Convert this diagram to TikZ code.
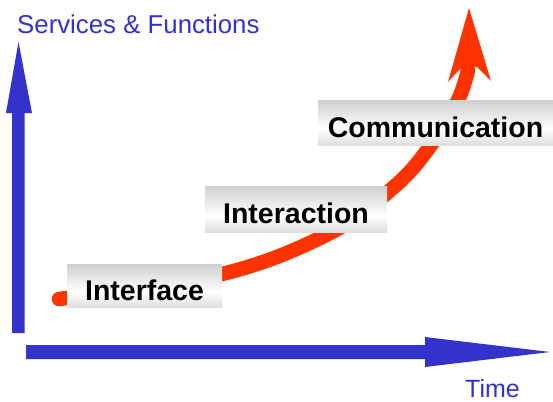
\documentclass[tikz,border=0pt]{standalone}
\usepackage{fontspec}
\setmainfont{Liberation Sans}
\definecolor{axisblue}{HTML}{3333CC}
\definecolor{curvered}{HTML}{FF3300}
\pgfdeclareverticalshading{barshade}{100bp}{color(0bp)=(gray!62); color(43bp)=(white); color(100bp)=(gray!68)}
\begin{document}
\begin{tikzpicture}[x=1pt,y=-1pt,
  bar/.style={shading=barshade, inner sep=0pt, font=\fontsize{28.5}{30}\selectfont\bfseries,
    text height=29pt, text depth=0pt},
  axislabel/.style={text=axisblue, font=\fontsize{25.8}{27}\selectfont, inner sep=0pt, anchor=base west},
  axisfill/.style={fill=axisblue, draw=none}]
\useasboundingbox (0,0) rectangle (553,401);
% red growth curve
\draw[curvered, line width=14.5pt, line cap=round]
  plot[smooth, tension=0.6] coordinates {(59,299) (222,274) (330,233) (395,186) (431,145) (458,100) (468,70)};
\fill[curvered] (469,8) -- (491,81) -- (477,67) -- (468,66) -- (459,70) -- (448,82) -- cycle;
% boxes
\node[bar, minimum width=155pt, minimum height=43pt] (iface) at (144.5,285.5) {Interface};
\node[bar, minimum width=182pt, minimum height=46pt] (inter) at (296,209) {Interaction};
\node[bar, minimum width=235pt, minimum height=45pt] (comm) at (435.5,122.5) {Communication};
% axes
\fill[axisfill] (12,333) -- (12,113) -- (6,113) -- (18.5,42) -- (32,113) -- (24.5,113) -- (24.5,333) -- cycle;
\fill[axisfill] (26,345) -- (425,345) -- (425,337) -- (550,352) -- (425,367) -- (425,359) -- (26,359) -- cycle;
\node[axislabel] (ylab) at (17,34) {Services \& Functions};
\node[axislabel, font=\fontsize{25}{27}\selectfont] (xlab) at (465,397) {Time};
\end{tikzpicture}
\end{document}
